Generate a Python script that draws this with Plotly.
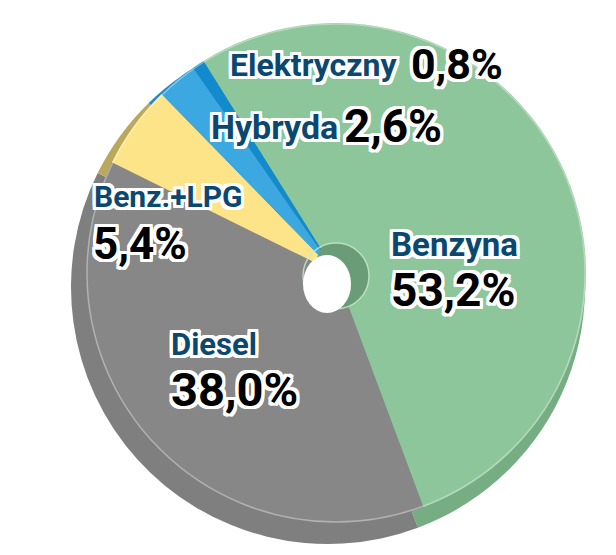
import math
import plotly.graph_objects as go

categories = ["Benzyna", "Diesel", "Benz.+LPG", "Hybryda", "Elektryczny"]
shares = [53.2, 38.0, 5.4, 2.6, 0.8]
value_labels = ["53,2%", "38,0%", "5,4%", "2,6%", "0,8%"]

top_colors = ["#8dc69b", "#878787", "#fde488", "#3ca8e2", "#128bce"]
side_colors = ["#76ad83", "#7f7f7f", "#bba85c", "#2a88bd", "#0c6fa8"]

W, H = 616, 555
FONT = "Roboto, Arial, sans-serif"


def dom(cx, cy, r):
    return dict(x=[(cx - r) / W, (cx + r) / W], y=[1 - (cy + r) / H, 1 - (cy - r) / H])


fig = go.Figure()
# side (extrusion) of the pie
fig.add_trace(go.Pie(labels=categories, values=shares, sort=False, direction="clockwise",
                     rotation=-32, textinfo="none", hoverinfo="skip", showlegend=False,
                     marker=dict(colors=side_colors, line=dict(width=0)),
                     domain=dom(320, 279, 257)))
# top face
fig.add_trace(go.Pie(labels=categories, values=shares, sort=False, direction="clockwise",
                     rotation=-32, textinfo="none", hoverinfo="skip", showlegend=False,
                     marker=dict(colors=top_colors, line=dict(width=0)),
                     domain=dom(328, 265, 250)))

shapes = []
# highlight along top face edge
shapes.append(dict(type="circle", xref="paper", yref="paper",
                   x0=(328 - 249) / W, x1=(328 + 249) / W,
                   y0=1 - (265 + 249) / H, y1=1 - (265 - 249) / H,
                   line=dict(color="rgba(255,255,255,0.35)", width=1.5)))

# hole: darker inner wall crescent + white opening
hcx, hcy, hr = 328, 268, 33
ecx, ecy, erx, ery = 319, 276, 24, 29
pts = []
for i in range(0, 41):
    a = math.radians(-25 + i * (190 / 40))
    pts.append((hcx + hr * math.sin(a), hcy - hr * math.cos(a)))
for i in range(40, -1, -1):
    a = math.radians(-25 + i * (190 / 40))
    pts.append((ecx + erx * math.sin(a), ecy - ery * math.cos(a)))
path = "M " + " L ".join(f"{x / W:.5f},{1 - y / H:.5f}" for x, y in pts) + " Z"
shapes.append(dict(type="path", xref="paper", yref="paper", path=path,
                   fillcolor="#6a9c77", line=dict(width=0)))
shapes.append(dict(type="circle", xref="paper", yref="paper",
                   x0=(hcx - hr) / W, x1=(hcx + hr) / W,
                   y0=1 - (hcy + hr) / H, y1=1 - (hcy - hr) / H,
                   line=dict(color="rgba(200,235,205,0.8)", width=1.5)))
shapes.append(dict(type="circle", xref="paper", yref="paper",
                   x0=(ecx - erx) / W, x1=(ecx + erx) / W,
                   y0=1 - (ecy + ery) / H, y1=1 - (ecy - ery) / H,
                   fillcolor="white", line=dict(width=0)))

outline = ", ".join(f"{dx}px {dy}px 0 #fff" for dx in (-3, -2, 0, 2, 3) for dy in (-3, -2, 0, 2, 3)
                    if not (dx == 0 and dy == 0))

# label placement (pixel positions of left edge and vertical centre, font size)
name_pos = {"Benzyna": (381, 236, 33), "Diesel": (161, 336, 31), "Benz.+LPG": (84, 188, 30),
            "Hybryda": (201, 119, 34), "Elektryczny": (220, 57, 32)}
value_pos = {"Benzyna": (381, 282, 46), "Diesel": (161, 381, 47), "Benz.+LPG": (83, 236, 44),
             "Hybryda": (334, 118, 46), "Elektryczny": (401, 56, 43)}

annotations = []
for cat, val in zip(categories, value_labels):
    x, y, s = name_pos[cat]
    annotations.append(dict(text=cat, x=x / W, y=1 - y / H, xref="paper", yref="paper",
                            xanchor="left", yanchor="middle", showarrow=False,
                            font=dict(family=FONT, size=s, color="#0b4870", weight="bold",
                                      shadow=outline)))
    x, y, s = value_pos[cat]
    annotations.append(dict(text=val, x=x / W, y=1 - y / H, xref="paper", yref="paper",
                            xanchor="left", yanchor="middle", showarrow=False,
                            font=dict(family=FONT, size=s, color="#000000", weight="bold",
                                      shadow=outline)))

fig.update_layout(width=W, height=H, margin=dict(l=0, r=0, t=0, b=0),
                  paper_bgcolor="white", plot_bgcolor="white",
                  shapes=shapes, annotations=annotations)
fig.write_html("out.html")
